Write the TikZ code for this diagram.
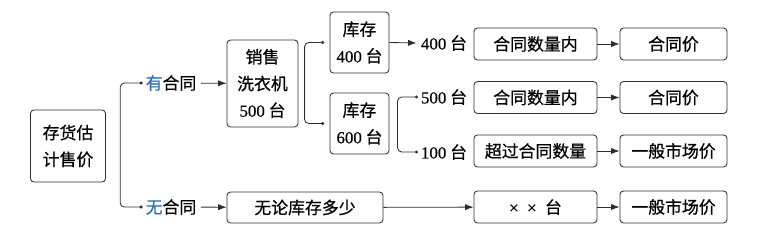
\documentclass[tikz,border=0pt]{standalone}
\usepackage{fontspec}
\setmainfont[FakeBold=0.5]{Liberation Serif}
\newfontfamily\cjk[FakeBold=0.6]{Noto Sans CJK SC}
\usetikzlibrary{positioning,arrows.meta,calc}
\newdimen\px \px=0.025cm
\newcommand{\nm}[1]{{\rmfamily #1}}

\begin{document}
\begin{tikzpicture}[x=0.025cm,y=-0.025cm,font=\fontsize{12}{19}\selectfont\cjk,
  box/.style={draw=ink,line width=0.6pt,rounded corners=2.5pt,align=center,inner sep=0pt},
  wide/.style={minimum width=123\px,minimum height=32\px},
  price/.style={minimum width=107\px,minimum height=32\px},
  stock/.style={minimum width=59\px,minimum height=61\px},
  lbl/.style={inner xsep=3pt,inner ysep=1pt},
  link/.style={draw=ink,line width=0.6pt,-{Latex[length=6pt,width=4.4pt]}},
  brk/.style={draw=ink,line width=0.6pt,rounded corners=3pt}]
\colorlet{ink}{black!82}\definecolor{tint}{RGB}{42,108,181}
\useasboundingbox (0,0) rectangle (775,244);
% ===== left: root and the two cases =====
\node[box,minimum width=75\px,minimum height=72\px] (root) at (68,146) {存货估\\计售价};
\node[lbl] (yes) at (171,83) {\textcolor{tint}{有}合同};
\node[lbl] (no) at (171,207) {\textcolor{tint}{无}合同};
\draw[brk] (yes.west) -- ++(-21,0) |- (no.west);
% ===== contract branch =====
\node[box,minimum width=71\px,minimum height=87\px] (sale) at (262.5,83.5) {销售\\洗衣机\\\nm{500} 台};
\node[box,stock] (s4) at (359.5,42.5) {库存\\\nm{400} 台};
\node[box,stock] (s6) at (359.5,123.5) {库存\\\nm{600} 台};
\coordinate (d4) at ($(s4.west)+(-7,0)$);
\coordinate (d6) at ($(s6.west)+(-7,0)$);
\draw[brk] (d4) -- ++(-18,0) |- (d6);
\node[lbl] (q4) at (444,43) {\nm{400} 台};
\node[lbl] (q5) at (444,97) {\nm{500} 台};
\node[lbl] (q1) at (444,152) {\nm{100} 台};
\draw[brk] (q5.west) -- ++(-19,0) |- (q1.west);
\node[box,wide] (c1) at (535.5,44) {合同数量内};
\node[box,price] (p1) at (673.5,44) {合同价};
\node[box,wide] (c2) at (535.5,97.5) {合同数量内};
\node[box,price] (p2) at (673.5,97.5) {合同价};
\node[box,wide] (c3) at (535.5,151) {超过合同数量};
\node[box,price] (p3) at (673.5,151) {一般市场价};
% ===== no-contract branch =====
\node[box,minimum width=156\px,minimum height=31\px] (any) at (305,207.5) {无论库存多少};
\node[box,wide] (xx) at (535.5,207) {\nm{×\hspace{6pt}×}\hspace{6pt}台};
\node[box,price] (p4) at (673.5,207) {一般市场价};
% connectors
\draw[link] (yes) -- (sale);
\draw[link] (s4.east) -- (q4.west);
\draw[link] (no) -- (any);
\draw[link] (any) -- (xx);
\foreach \a/\b in {c1/p1,c2/p2,c3/p3,xx/p4}{\draw[link] (\a) -- (\b);}
\foreach \n in {yes.west,no.west,d4,d6,q5.west,q1.west}{\fill[ink] (\n) circle (1.7);}
\end{tikzpicture}
\end{document}
